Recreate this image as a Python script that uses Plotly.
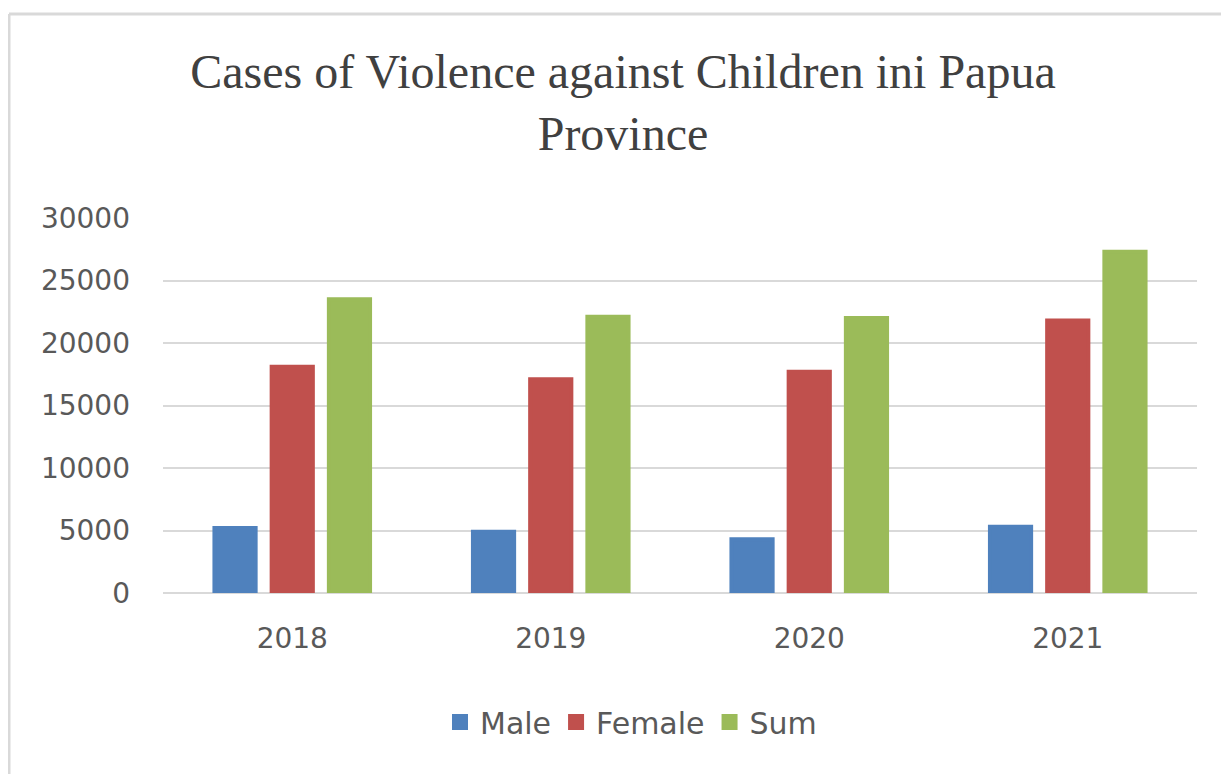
import plotly.graph_objects as go

years = ["2018", "2019", "2020", "2021"]
male = [5200, 4900, 4300, 5300]
female = [18100, 17100, 17700, 21800]
total = [23500, 22100, 22000, 27300]

series_names = ["Male", "Female", "Sum"]
series_colors = ["#4F81BD", "#C0504D", "#9BBB59"]
y_ticks = [0, 5000, 10000, 15000, 20000, 25000, 30000]
y_tick_text = ["0", "5000", "10000", "15000", "20000", "25000", "30000"]

fig = go.Figure()
for name, vals, col in zip(series_names, [male, female, total], series_colors):
    fig.add_trace(go.Bar(
        x=years, y=vals, name=name,
        marker=dict(color=col, line=dict(color=col, width=4)),
    ))

# page is drawn with an 8px body offset
OFF = 8
W, H = 1229, 774
L, R = 163 - OFF, 40
T = 218 - OFF
B = H - (593 - OFF)
pw = W - L - R
ph = H - T - B

def px_x(p):
    return (p - OFF - L) / pw

def px_y(p):
    return (H - B - (p - OFF)) / ph

fig.update_layout(
    width=W, height=H,
    margin=dict(l=L, r=R, t=T, b=B, autoexpand=False),
    paper_bgcolor="white", plot_bgcolor="white",
    barmode="group", bargap=0.336, bargroupgap=0.28,
    title=dict(
        text="Cases of Violence against Children ini Papua<br>Province",
        x=(623 - OFF) / W, xref="container", xanchor="center",
        y=1 - 80 / H, yref="container", yanchor="top",
        font=dict(family="Liberation Serif", size=48, color="#404040"),
    ),
    font=dict(family="DejaVu Sans", size=28, color="#595959"),
    xaxis=dict(
        showgrid=False, showline=False, ticks="", ticklabelstandoff=26,
        tickfont=dict(family="DejaVu Sans", size=28, color="#595959"),
    ),
    yaxis=dict(
        range=[0, 30000], tickvals=y_ticks, ticktext=y_tick_text, showgrid=True,
        gridcolor="#d9d9d9", gridwidth=2, zeroline=True,
        zerolinecolor="#d9d9d9", zerolinewidth=2,
        ticks="", ticklabelstandoff=32,
        tickfont=dict(family="DejaVu Sans", size=28, color="#595959"),
    ),
    legend=dict(
        orientation="h", x=px_x(631), xanchor="center",
        y=px_y(722), yanchor="middle",
        font=dict(family="DejaVu Sans", size=30, color="#595959"),
        itemwidth=30, tracegroupgap=0,
    ),
    shapes=[
        dict(type="line", xref="paper", yref="paper",
             x0=px_x(9), x1=px_x(9), y0=px_y(14), y1=px_y(800),
             line=dict(color="#d9d9d9", width=3)),
        dict(type="line", xref="paper", yref="paper",
             x0=px_x(9), x1=px_x(1300), y0=px_y(14), y1=px_y(14),
             line=dict(color="#d9d9d9", width=3)),
    ],
)

fig.write_html("out.html")
